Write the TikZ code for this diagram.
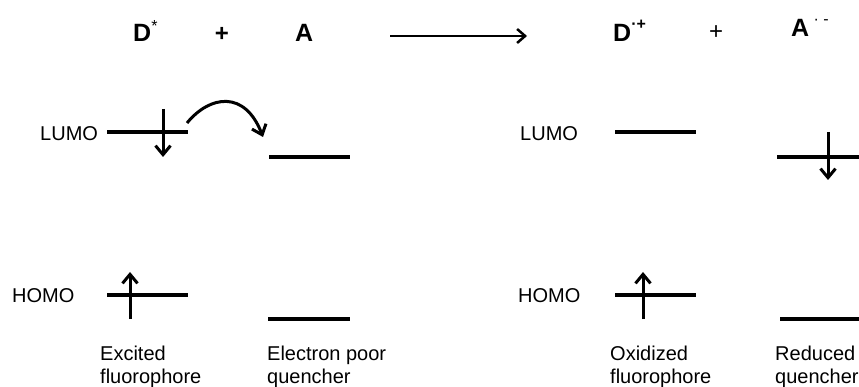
\documentclass[tikz,border=0pt]{standalone}
\usepackage{fontspec}
\setmainfont{Liberation Sans}
\usetikzlibrary{arrows.meta}
\begin{document}
\begin{tikzpicture}[x=1pt,y=-1pt,
  txt/.style={inner sep=0pt, anchor=base west, align=left, font=\fontsize{20}{23}\selectfont},
  big/.style={inner sep=0pt, anchor=base west, font=\fontsize{25}{28}\selectfont\bfseries},
  plus/.style={inner sep=0pt, font=\fontsize{24}{28}\selectfont},
  level/.style={line width=3.3pt},
  spin/.style={line width=3pt, -{Straight Barb[length=9pt,width=15pt]}},
  react/.style={line width=2.5pt, -{Straight Barb[length=8pt,width=14pt]}}]
\useasboundingbox (0,0) rectangle (859,387);
% top equation
\node[big] (Dstar) at (133,42) {D\raisebox{10pt}{\fontsize{16}{16}\selectfont\mdseries *}};
\node[plus,font=\fontsize{24}{28}\selectfont\bfseries] (plus1) at (222,34) {+};
\node[big] (A) at (295,42) {A};
\coordinate (r1) at (390,36);
\coordinate (r2) at (527,36);
\draw[react] (r1) -- (r2);
\node[big] (Dox) at (613,42) {D\raisebox{12pt}{\fontsize{16}{16}\selectfont ·+}};
\node[plus] (plus2) at (716,33) {+};
\node[big] (Ared) at (791,37) {A\raisebox{12pt}{\fontsize{16}{16}\selectfont\mdseries\ · -}};
% side labels
\node[txt] (lumo1) at (40,141) {LUMO};
\node[txt] (homo1) at (12,302) {HOMO};
\node[txt] (lumo2) at (520,141) {LUMO};
\node[txt] (homo2) at (518,302) {HOMO};
% levels
\coordinate (dL1) at (107,132); \coordinate (dL2) at (188,132);
\coordinate (aL1) at (269,157); \coordinate (aL2) at (350,157);
\coordinate (dH1) at (107,295); \coordinate (dH2) at (188,295);
\coordinate (aH1) at (268,319); \coordinate (aH2) at (350,319);
\coordinate (oL1) at (615,132); \coordinate (oL2) at (696,132);
\coordinate (rL1) at (777,157); \coordinate (rL2) at (859,157);
\coordinate (oH1) at (615,295); \coordinate (oH2) at (696,295);
\coordinate (rH1) at (780,319); \coordinate (rH2) at (859,319);
\draw[level] (dL1) -- (dL2);
\draw[level] (aL1) -- (aL2);
\draw[level] (dH1) -- (dH2);
\draw[level] (aH1) -- (aH2);
\draw[level] (oL1) -- (oL2);
\draw[level] (rL1) -- (rL2);
\draw[level] (oH1) -- (oH2);
\draw[level] (rH1) -- (rH2);
% electrons
\coordinate (e1s) at (163,109); \coordinate (e1e) at (163,157);
\coordinate (e2s) at (130,319); \coordinate (e2e) at (130,272);
\coordinate (e3s) at (643,319); \coordinate (e3e) at (643,272);
\coordinate (e4s) at (828,132); \coordinate (e4e) at (828,180);
\draw[spin] (e1s) -- (e1e);
\draw[spin] (e2s) -- (e2e);
\draw[spin] (e3s) -- (e3e);
\draw[spin] (e4s) -- (e4e);
% transfer arrow
\coordinate (t1) at (187,123); \coordinate (t2) at (263,137);
\draw[spin] (t1) .. controls (210,95) and (245,90) .. (t2);
% captions
\node[txt] (c1) at (100,383) {Excited\\fluorophore};
\node[txt] (c2) at (267,383) {Electron poor\\quencher};
\node[txt] (c3) at (610,383) {Oxidized\\fluorophore};
\node[txt] (c4) at (775,383) {Reduced\\quencher};
\end{tikzpicture}
\end{document}
